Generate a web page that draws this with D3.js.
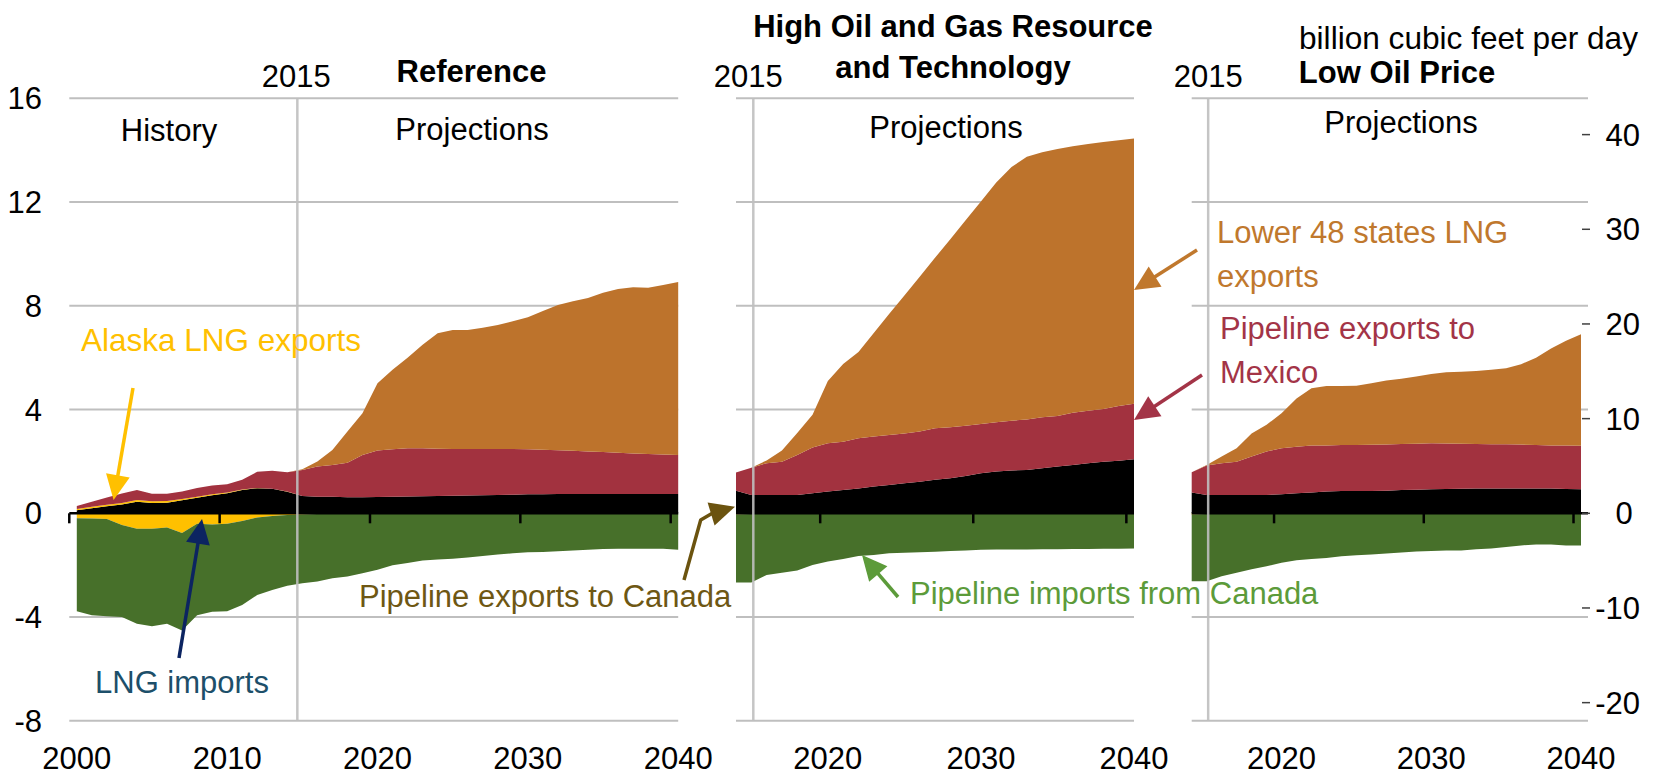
<!DOCTYPE html>
<html>
<head>
<meta charset="utf-8">
<script src="https://cdn.jsdelivr.net/npm/d3@7"></script>
<style>
  html, body { margin: 0; padding: 0; background: #ffffff; }
  svg { display: block; }
</style>
</head>
<body>
<svg id="chart" width="1656" height="777"></svg>
<script>
// ---------------- DATA (trillion cubic feet) ----------------
const refYears = d3.range(2000, 2041);
const sideYears = d3.range(2014, 2041);

// Reference case, 2000-2040
const refCanadaExports = [0.12,0.19,0.27,0.34,0.45,0.40,0.41,0.50,0.60,0.70,
  0.77,0.90,0.97,0.95,0.83,0.67,0.64,0.64,0.62,0.62,
  0.63,0.64,0.65,0.66,0.67,0.68,0.69,0.70,0.71,0.72,
  0.73,0.73,0.74,0.74,0.74,0.74,0.74,0.74,0.74,0.74,
  0.74];
const refAlaskaLNG = [0.05,0.06,0.06,0.06,0.06,0.06,0.06,0.05,0.04,0.03,
  0.03,0.02,0.01,0,0.01,0,0,0,0,0,
  0,0,0,0,0,0,0,0,0,0,
  0,0,0,0,0,0,0,0,0,0,
  0];
const refMexicoExports = [0.11,0.20,0.28,0.36,0.39,0.29,0.28,0.29,0.34,0.34,
  0.32,0.37,0.62,0.69,0.74,1.00,1.16,1.22,1.33,1.63,
  1.79,1.83,1.86,1.85,1.82,1.80,1.79,1.78,1.77,1.76,
  1.74,1.72,1.69,1.67,1.64,1.62,1.59,1.57,1.55,1.53,
  1.51];
const refLower48LNG = [0,0,0,0,0,0,0,0,0,0,
  0,0,0,0,0,0.03,0.20,0.58,1.20,1.61,
  2.59,3.06,3.49,3.99,4.45,4.59,4.59,4.67,4.78,4.92,
  5.09,5.35,5.60,5.77,5.92,6.14,6.32,6.41,6.41,6.53,
  6.67];
const refLNGImports = [-0.19,-0.20,-0.22,-0.45,-0.60,-0.60,-0.55,-0.76,-0.40,-0.43,
  -0.40,-0.30,-0.16,-0.10,-0.07,-0.05,-0.03,-0.01,0,0,
  0,0,0,0,0,0,0,0,0,0,
  0,0,0,0,0,0,0,0,0,0,
  0];
const refCanadaImports = [-3.59,-3.73,-3.75,-3.55,-3.66,-3.75,-3.71,-3.76,-3.53,-3.37,
  -3.38,-3.24,-2.99,-2.86,-2.72,-2.65,-2.60,-2.49,-2.44,-2.31,
  -2.18,-2.00,-1.92,-1.82,-1.78,-1.75,-1.70,-1.65,-1.59,-1.54,
  -1.50,-1.49,-1.46,-1.43,-1.41,-1.38,-1.37,-1.37,-1.37,-1.37,
  -1.41];

// High Oil and Gas Resource and Technology, 2014-2040
const highCanadaExports = [0.87,0.71,0.71,0.71,0.71,0.77,0.84,0.90,0.96,1.03,1.09,1.16,1.22,1.29,1.35,1.44,1.54,1.61,1.65,1.67,1.74,1.80,1.86,1.93,1.99,2.03,2.08];
const highAlaskaLNG = [0,0,0,0,0,0,0,0,0,0,0,0,0,0,0,0,0,0,0,0,0,0,0,0,0,0,0];
const highMexicoExports = [0.70,1.05,1.22,1.28,1.54,1.77,1.86,1.86,1.93,1.93,1.93,1.92,1.93,1.99,1.97,1.94,1.90,1.90,1.92,1.95,1.96,1.95,2.02,2.02,2.03,2.11,2.14];
const highLower48LNG = [0,0,0.11,0.43,0.85,1.26,2.40,3.00,3.33,3.99,4.66,5.32,5.97,6.57,7.25,7.92,8.58,9.24,9.78,10.13,10.22,10.30,10.27,10.29,10.30,10.24,10.23];
const highLNGImports = [-0.05,-0.03,0,0,0,0,0,0,0,0,0,0,0,0,0,0,0,0,0,0,0,0,0,0,0,0,0];
const highCanadaImports = [-2.62,-2.64,-2.38,-2.29,-2.21,-1.99,-1.86,-1.76,-1.65,-1.61,-1.54,-1.52,-1.50,-1.48,-1.45,-1.43,-1.41,-1.40,-1.40,-1.40,-1.39,-1.39,-1.38,-1.38,-1.37,-1.37,-1.36];

// Low Oil Price, 2014-2040
const lowCanadaExports = [0.80,0.71,0.71,0.71,0.71,0.71,0.73,0.77,0.80,0.84,0.86,0.86,0.86,0.87,0.90,0.91,0.93,0.94,0.95,0.96,0.96,0.96,0.96,0.96,0.96,0.94,0.93];
const lowAlaskaLNG = [0,0,0,0,0,0,0,0,0,0,0,0,0,0,0,0,0,0,0,0,0,0,0,0,0,0,0];
const lowMexicoExports = [0.78,1.13,1.22,1.28,1.48,1.67,1.78,1.80,1.81,1.77,1.77,1.77,1.78,1.78,1.77,1.77,1.77,1.75,1.73,1.71,1.70,1.70,1.69,1.67,1.65,1.67,1.67];
const lowLower48LNG = [0,0.02,0.26,0.52,0.89,1.03,1.35,1.86,2.21,2.30,2.28,2.29,2.37,2.47,2.52,2.59,2.67,2.75,2.78,2.82,2.87,2.93,3.10,3.37,3.74,4.04,4.30];
const lowLNGImports = [-0.05,-0.03,0,0,0,0,0,0,0,0,0,0,0,0,0,0,0,0,0,0,0,0,0,0,0,0,0];
const lowCanadaImports = [-2.57,-2.59,-2.43,-2.29,-2.16,-2.04,-1.91,-1.81,-1.76,-1.72,-1.66,-1.62,-1.59,-1.55,-1.51,-1.47,-1.45,-1.43,-1.43,-1.39,-1.36,-1.30,-1.24,-1.20,-1.20,-1.24,-1.24];

// Axis ticks / labels
const leftAxisTicks = [16, 12, 8, 4, 0, -4, -8];
const rightAxisTicks = [40, 30, 20, 10, 0, -10, -20];
const refXTicks = [2000, 2010, 2020, 2030, 2040];
const sideXTicks = [2020, 2030, 2040];
const dividerYear = 2015;
const TCF_TO_BCFD = 1000 / 365;

const seriesKeys = ["canadaExports", "alaskaLNG", "mexicoExports", "lower48LNG", "lngImports", "canadaImports"];
const negativeKeys = new Set(["lngImports", "canadaImports"]);
const seriesColors = {
  canadaExports: "#000000",
  alaskaLNG: "#FFC000",
  mexicoExports: "#A2323F",
  lower48LNG: "#BD732C",
  lngImports: "#FFC000",
  canadaImports: "#47702A"
};

function rows(years, ce, al, me, l48, li, ci) {
  return years.map((yr, i) => ({ year: yr, canadaExports: ce[i], alaskaLNG: al[i], mexicoExports: me[i],
    lower48LNG: l48[i], lngImports: li[i], canadaImports: ci[i] }));
}

const panels = [
  { id: "ref", years: refYears, data: rows(refYears, refCanadaExports, refAlaskaLNG, refMexicoExports, refLower48LNG, refLNGImports, refCanadaImports),
    x0: 76.8, x1: 678.2, gridX0: 69.3, gridX1: 678.2, ticks: refXTicks, divShift: -5, divLabelShift: -1 },
  { id: "high", years: sideYears, data: rows(sideYears, highCanadaExports, highAlaskaLNG, highMexicoExports, highLower48LNG, highLNGImports, highCanadaImports),
    x0: 736, x1: 1134, gridX0: 736, gridX1: 1134, ticks: sideXTicks, divShift: 2, divLabelShift: -5 },
  { id: "low", years: sideYears, data: rows(sideYears, lowCanadaExports, lowAlaskaLNG, lowMexicoExports, lowLower48LNG, lowLNGImports, lowCanadaImports),
    x0: 1191.7, x1: 1581, gridX0: 1191.7, gridX1: 1588, ticks: sideXTicks, divShift: 1.5, divLabelShift: 0 }
];

// ---------------- DRAW ----------------
const FONT = "'Liberation Sans', Arial, Helvetica, sans-serif";
const FS = 31;
const svg = d3.select("#chart").style("font-family", FONT);

const y = d3.scaleLinear().domain([-8, 16]).range([720.8, 98.3]);
const y2 = d3.scaleLinear().domain([-8 * TCF_TO_BCFD, 16 * TCF_TO_BCFD]).range([720.8, 98.3]);

const stack = d3.stack().keys(seriesKeys).offset((series, order) => {
  const m = series[order[0]].length;
  for (let j = 0; j < m; ++j) {
    let yp = 0, yn = 0;
    for (let i = 0; i < order.length; ++i) {
      const s = series[order[i]];
      const d = s[j];
      const dy = d[1] - d[0];
      if (negativeKeys.has(s.key)) { d[1] = yn; d[0] = yn += dy; }
      else { d[0] = yp; d[1] = yp += dy; }
    }
  }
});

const gGrid = svg.append("g");
const gAreas = svg.append("g");
const gAxes = svg.append("g");
const gText = svg.append("g");

panels.forEach(p => {
  const x = d3.scaleLinear().domain([p.years[0], p.years[p.years.length - 1]]).range([p.x0, p.x1]);
  const w = (p.x1 - p.x0) / (p.years.length - 1);

  // gridlines
  gGrid.selectAll(null).data(leftAxisTicks.filter(v => v !== 0)).join("line")
    .attr("x1", p.gridX0).attr("x2", p.gridX1)
    .attr("y1", d => y(d)).attr("y2", d => y(d))
    .attr("stroke", "#BFBFBF").attr("stroke-width", 2);

  // stacked areas
  const stacked = stack(p.data);
  const area = d3.area().x(d => x(d.data.year)).y0(d => y(d[0])).y1(d => y(d[1]));
  gAreas.selectAll(null).data(stacked).join("path")
    .attr("d", area)
    .attr("fill", d => seriesColors[d.key]);

  // zero axis + ticks
  gAxes.append("line").attr("x1", p.gridX0).attr("x2", p.gridX1)
    .attr("y1", y(0)).attr("y2", y(0)).attr("stroke", "#000").attr("stroke-width", 2.5);
  gAxes.selectAll(null).data(p.ticks).join("line")
    .attr("x1", d => x(d) - w / 2).attr("x2", d => x(d) - w / 2)
    .attr("y1", y(0)).attr("y2", y(0) + 10)
    .attr("stroke", "#000").attr("stroke-width", 2.5);

  // x tick labels at category centres
  gText.selectAll(null).data(p.ticks).join("text")
    .attr("x", d => x(d)).attr("y", 769)
    .attr("text-anchor", "middle").attr("font-size", FS).attr("fill", "#000")
    .text(d => d);

  // 2015 divider line
  const xd = x(dividerYear) + p.divShift;
  gAxes.append("line").attr("x1", xd).attr("x2", xd)
    .attr("y1", y(16)).attr("y2", y(-8))
    .attr("stroke", "#BFBFBF").attr("stroke-width", 2.5).attr("stroke-opacity", 0.9);
  gText.append("text").attr("x", xd + p.divLabelShift).attr("y", 87)
    .attr("text-anchor", "middle").attr("font-size", FS).attr("fill", "#000").text(dividerYear);
});

// left axis labels
gText.selectAll(null).data(leftAxisTicks).join("text")
  .attr("x", 42).attr("y", d => y(d) + 11)
  .attr("text-anchor", "end").attr("font-size", FS).attr("fill", "#000")
  .text(d => d);

// right axis ticks & labels
gAxes.selectAll(null).data(rightAxisTicks).join("line")
  .attr("x1", 1582).attr("x2", 1590)
  .attr("y1", d => y2(d)).attr("y2", d => y2(d))
  .attr("stroke", "#404040").attr("stroke-width", 1.5);
gText.selectAll(null).data(rightAxisTicks).join("text")
  .attr("x", d => d === 0 ? 1624 : 1640).attr("y", d => y2(d) + 11)
  .attr("text-anchor", d => d === 0 ? "middle" : "end").attr("font-size", FS).attr("fill", "#000")
  .text(d => d);

// titles and section labels
function txt(x, yy, s, opts = {}) {
  return gText.append("text").attr("x", x).attr("y", yy)
    .attr("font-size", opts.size || FS)
    .attr("font-weight", opts.bold ? "bold" : "normal")
    .attr("text-anchor", opts.anchor || "start")
    .attr("fill", opts.color || "#000").text(s);
}
txt(471.5, 82, "Reference", { bold: true, anchor: "middle" });
txt(953, 37, "High Oil and Gas Resource", { bold: true, anchor: "middle" });
txt(953, 78, "and Technology", { bold: true, anchor: "middle" });
txt(1397, 83, "Low Oil Price", { bold: true, anchor: "middle" });
txt(1638, 49, "billion cubic feet per day", { anchor: "end", size: 31.6 });
txt(169, 141, "History", { anchor: "middle" });
txt(472, 139.5, "Projections", { anchor: "middle" });
txt(946, 137.5, "Projections", { anchor: "middle" });
txt(1401, 133, "Projections", { anchor: "middle" });

// annotation labels
txt(81, 351, "Alaska LNG exports", { color: "#FFC000", size: 31.5 });
txt(95, 693, "LNG imports", { color: "#1D4F6A" });
txt(359, 607, "Pipeline exports to Canada", { color: "#6E5713" });
txt(910, 604, "Pipeline imports from Canada", { color: "#5C9B3A" });
txt(1217, 243, "Lower 48 states LNG", { color: "#C0782D" });
txt(1217, 287, "exports", { color: "#C0782D" });
txt(1220, 339, "Pipeline exports to", { color: "#A33447" });
txt(1220, 383, "Mexico", { color: "#A33447" });

// arrows
function arrow(pts, color, sw = 3.5, headLen = 25, headHalf = 12) {
  const tip = pts[pts.length - 1], prev = pts[pts.length - 2];
  const dx = tip[0] - prev[0], dy = tip[1] - prev[1], L = Math.hypot(dx, dy);
  const ux = dx / L, uy = dy / L;
  const base = [tip[0] - ux * headLen, tip[1] - uy * headLen];
  const linePts = pts.slice(0, -1).concat([[base[0] + ux * 2, base[1] + uy * 2]]);
  gText.append("path").attr("d", d3.line()(linePts))
    .attr("stroke", color).attr("stroke-width", sw).attr("fill", "none").attr("stroke-linejoin", "round");
  const px = -uy, py = ux;
  gText.append("path")
    .attr("d", `M${tip[0]},${tip[1]}L${base[0] + px * headHalf},${base[1] + py * headHalf}L${base[0] - px * headHalf},${base[1] - py * headHalf}Z`)
    .attr("fill", color);
}
arrow([[133, 388], [113.6, 500]], "#FFC000");
arrow([[179, 658], [202, 519]], "#0C2461");
arrow([[684, 580], [700.7, 520], [711, 514], [735, 506.7]], "#6B530F");
arrow([[898, 597], [862, 555]], "#5C9B3A");
arrow([[1197, 250], [1134, 290]], "#C0782D");
arrow([[1202, 375], [1134, 420]], "#A33447");
</script>
</body>
</html>
